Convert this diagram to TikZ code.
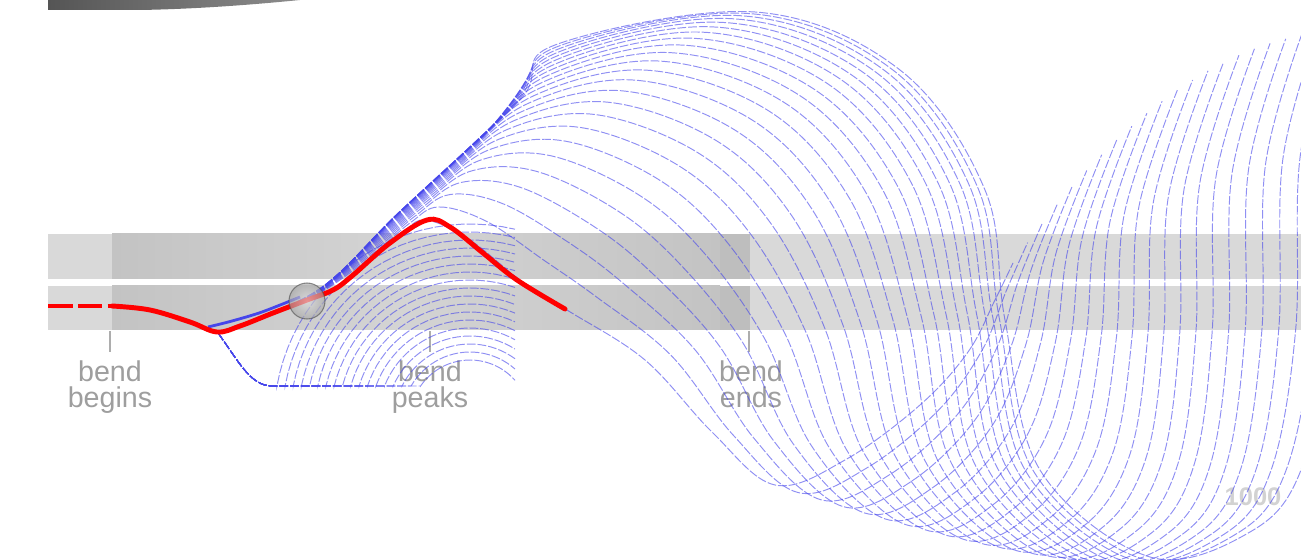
\documentclass[tikz,border=0pt]{standalone}
\usepackage{fontspec}
\setmainfont{Liberation Sans}
\definecolor{wavec}{RGB}{70,70,235}
\definecolor{bandL}{RGB}{217,217,217}
\definecolor{bandD}{RGB}{195,195,195}
\definecolor{bandM}{RGB}{212,212,212}
\definecolor{bandS}{RGB}{190,190,190}
\definecolor{labc}{RGB}{158,158,158}
\definecolor{numc}{RGB}{210,210,210}
\definecolor{topdark}{RGB}{85,85,85}
\definecolor{topmid}{RGB}{140,140,140}
\newcommand\qp[7]{%
 \pgfmathsetmacro\tmpx{\qa*(#2)+\qb*(2*(#4)-((#2)+(#6))/2)+\qc*(#6)}%
 \pgfmathsetmacro\tmpy{\qa*(#3)+\qb*(2*(#5)-((#3)+(#7))/2)+\qc*(#7)}%
 \expandafter\let\csname qx#1\endcsname\tmpx
 \expandafter\let\csname qy#1\endcsname\tmpy}
\begin{document}
\begin{tikzpicture}[x=0.02cm,y=-0.02cm,
  wave/.style={draw=wavec, draw opacity=0.6, line width=0.55pt, dash pattern=on 5pt off 1.1pt},
  lab/.style={text=labc, font=\fontsize{16.3}{16}\selectfont, inner sep=0pt, anchor=base},
  tickline/.style={draw=labc!85, line width=1.1pt}]
\useasboundingbox (0,0) rectangle (1301,560);
\clip (0,0) rectangle (1301,560);

% top-left dark shape
\shade[left color=topdark, right color=topmid] (48,0) -- (48,10) -- (140,10) .. controls (200,9) and (260,4) .. (300,0) -- cycle;

% bands
\foreach \ya/\yb in {234/279, 286/330} {
  \fill[bandL] (48,\ya) rectangle (1301,\yb);
  \shade[left color=bandD, right color=bandM] (112,\ya) rectangle (400,\yb);
  \shade[left color=bandM, right color=bandD] (400,\ya) rectangle (720,\yb);
  \fill[bandS] (720,\ya) rectangle (750,\yb);
}

% ticks and labels
\coordinate (t1) at (110,331);
\coordinate (t2) at (430,331);
\coordinate (t3) at (749,331);
\node[lab] (l1a) at (110,381) {bend};
\node[lab] (l1b) at (110,407) {begins};
\node[lab] (l2a) at (430,381) {bend};
\node[lab] (l2b) at (430,407) {peaks};
\node[lab] (l3a) at (751,381) {bend};
\node[lab] (l3b) at (751,407) {ends};
\draw[tickline] (t1) -- ++(0,21);
\draw[tickline] (t2) -- ++(0,21);
\draw[tickline] (t3) -- ++(0,21);
\node[text=numc, font=\fontsize{14.5}{15}\selectfont\bfseries, inner sep=0pt] (n1000) at (1253,497) {1000};

% fan of early frames
\foreach \rr in {60,68,...,196} {
  \pgfmathsetmacro\angA{180-asin(34/\rr)}
  \pgfmathsetmacro\angB{acos(45/\rr)}
  \pgfmathsetmacro\xstart{470+\rr*cos(\angA)}
  \draw[wave] (218,333) .. controls (238,360) and (250,386) .. (272,386) -- (\xstart,386)
    -- plot[domain=\angA:\angB, samples=25, variable=\ang] ({470+\rr*cos(\ang)},{420-\rr*sin(\ang)});
}

% later frames
\foreach \k in {0,...,23} {
  \pgfmathsetmacro\tq{\k/23}
  \pgfmathsetmacro\qa{(1-\tq)^2}
  \pgfmathsetmacro\qb{2*\tq*(1-\tq)}
  \pgfmathsetmacro\qc{\tq^2}
  \qp{a}{218}{333}{218}{333}{218}{333}
  \qp{b}{307}{300}{312}{295}{318}{290}
  \qp{c}{370}{258}{392}{222}{400}{212}
  \qp{d}{405}{230}{465}{155}{520}{100}
  \qp{e}{427}{220}{530}{100}{555}{45}
  \qp{f}{470}{240}{640}{75}{755}{12}
  \qp{g}{520}{280}{760}{115}{900}{70}
  \qp{h}{567}{310}{840}{200}{985}{190}
  \qp{i}{645}{360}{885}{320}{1005}{320}
  \qp{j}{712}{432}{918}{460}{1040}{470}
  \qp{k}{775}{485}{1005}{548}{1150}{557}
  \qp{l}{845}{460}{1078}{522}{1250}{532}
  \qp{m}{920}{405}{1122}{452}{1301}{470}
  \qp{n}{968}{352}{1140}{335}{1330}{330}
  \qp{o}{995}{300}{1146}{205}{1336}{150}
  \qp{p}{1013}{263}{1185}{85}{1365}{30}
  \draw[wave] plot[smooth, tension=0.6] coordinates {(\qxa,\qya) (\qxb,\qyb) (\qxc,\qyc) (\qxd,\qyd) (\qxe,\qye) (\qxf,\qyf) (\qxg,\qyg) (\qxh,\qyh) (\qxi,\qyi) (\qxj,\qyj) (\qxk,\qyk) (\qxl,\qyl) (\qxm,\qym) (\qxn,\qyn) (\qxo,\qyo) (\qxp,\qyp)};
}

% current frame
\draw[wavec, line width=1.6pt] plot[smooth] coordinates {(208,327) (232,321) (262,312) (300,297)};
\draw[red, line width=2.8pt, dash pattern=on 14pt off 3pt] (48,306) -- (112,306);
\draw[red, line width=2.8pt, line cap=round] plot[smooth, tension=0.6] coordinates {(112,306) (150,310) (190,322) (217,332) (240,326) (273,313) (307,300) (333,290) (352,276) (390,243) (427,220) (450,227) (483,253) (517,280) (565,309)};

% ball
\shade[inner color=gray!25, outer color=gray!70, opacity=0.65] (307,301) circle[radius=18];
\draw[gray!60!black, opacity=0.6, line width=0.6pt] (307,301) circle[radius=18];
\end{tikzpicture}
\end{document}
